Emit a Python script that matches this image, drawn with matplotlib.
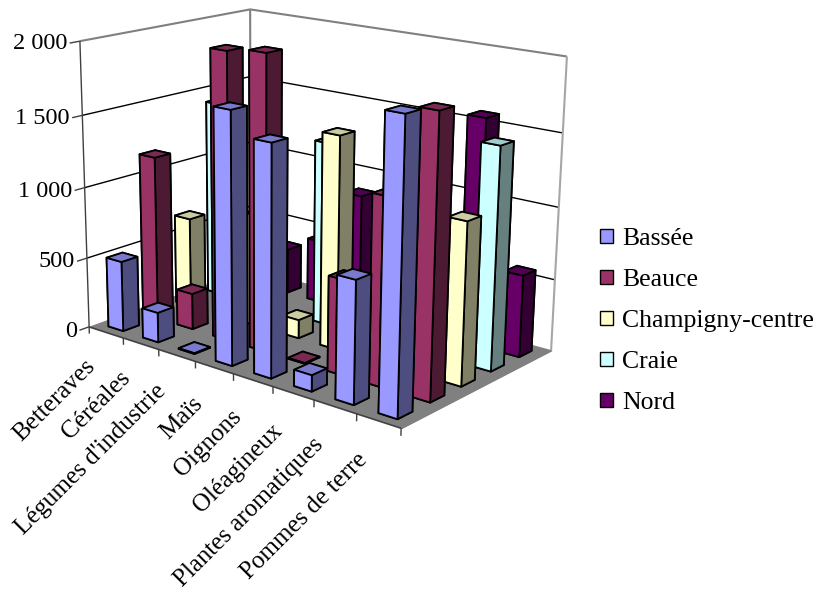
import numpy as np
import matplotlib
matplotlib.use('Agg')
import matplotlib.pyplot as plt
from matplotlib.patches import Patch
from mpl_toolkits.mplot3d.art3d import Poly3DCollection, Line3DCollection
from mpl_toolkits.mplot3d import proj3d

plt.rcParams['font.family'] = ['Liberation Serif', 'DejaVu Serif']

categories = ['Betteraves', 'Céréales', "Légumes d'industrie", 'Maïs', 'Oignons',
              'Oléagineux', 'Plantes aromatiques', 'Pommes de terre']
series_names = ['Bassée', 'Beauce', 'Champigny-centre', 'Craie', 'Nord']
bassee = [500, 210, 5, 1710, 1555, 110, 815, 1890]
beauce = [1165, 255, 1990, 2020, 5, 650, 1260, 1850]
champigny = [650, 0, 800, 130, 1475, 210, 1000, 1095]
craie = [1420, 0, 0, 1300, 0, 0, 0, 1510]
nord = [300, 330, 455, 860, 0, 0, 1575, 570]
series_values = [bassee, beauce, champigny, craie, nord]
z_ticks = [0, 500, 1000, 1500, 2000]
z_labels = ['0', '500', '1 000', '1 500', '2 000']
front_colors = ['#9999FF', '#993366', '#FFFFCC', '#CCFFFF', '#660066']
side_colors = ['#4D4D80', '#4D1A33', '#808066', '#668080', '#330033']
top_colors = ['#7A7ACC', '#7A2952', '#CCCCA3', '#A3CCCC', '#520052']

W, H = 816, 591
# camera calibration: chart box corners -> pixel positions
world = [(0, 0, 0), (0, 0, 2000), (8, 0, 0), (8, 5, 0), (8, 5, 2000), (0, 5, 0), (0, 5, 2000)]
pix = [(90, 328), (80, 40), (400, 428), (552, 350), (567, 57), (250, 268), (250, 10)]
A = []
for (X, Y, Z), (u, v) in zip(world, pix):
    Z = Z / 2000 * 5
    v = H - v
    A.append([X, Y, Z, 1, 0, 0, 0, 0, -u * X, -u * Y, -u * Z, -u])
    A.append([0, 0, 0, 0, X, Y, Z, 1, -v * X, -v * Y, -v * Z, -v])
P = np.linalg.svd(np.array(A, float))[2][-1].reshape(3, 4)
P = P @ np.diag([1, 1, 5 / 2000, 1])
P = P / (P[2] @ np.array([4, 2.5, 1000, 1]))
M = np.vstack([P[0], P[1], [0, 0, 0, -1], P[2]])

fig = plt.figure(figsize=(W / 100, H / 100), dpi=100)
ax = fig.add_subplot(projection='3d', computed_zorder=False)
ax.set_position([0, 0, 1, 1])
ax.apply_aspect = lambda position=None: None
ax.get_proj = lambda: M
ax.set_axis_off()
ax.viewLim.intervalx = (0, W)
ax.viewLim.intervaly = (0, H)


def line3d(xs, ys, zs, color, lw, zorder=2):
    pts = list(zip(xs, ys, zs))
    col = Line3DCollection([pts], colors=color, linewidths=lw, zorder=zorder)
    ax.add_collection3d(col)


def text3d(x, y, z, s, **kw):
    px, py, _ = proj3d.proj_transform(x, y, z, M)
    ax.text2D(px, py, s, transform=ax.transData, **kw)


n_cat, n_ser = len(categories), len(series_names)
z_top = z_ticks[-1]
ax.add_collection3d(Poly3DCollection([[(0, 0, 0), (n_cat, 0, 0), (n_cat, n_ser, 0), (0, n_ser, 0)]],
                                     facecolor='#808080', edgecolor='#808080', zorder=1))
for t in z_ticks[1:-1]:
    line3d([0, 0, n_cat], [0, n_ser, n_ser], [t, t, t], 'black', 1.0)
line3d([0, 0, n_cat], [0, n_ser, n_ser], [z_top] * 3, '#808080', 1.5)
line3d([0, 0], [n_ser, n_ser], [0, z_top], '#808080', 1.5)
line3d([n_cat, n_cat], [n_ser, n_ser], [0, z_top], '#a6a6a6', 1.5)
line3d([0, 0], [0, 0], [0, z_top], '#404040', 1.0)
line3d([0, n_cat], [0, 0], [0, 0], '#404040', 1.0)
line3d([n_cat, n_cat], [0, n_ser], [0, 0], '#808080', 1.0)

for t, lab in zip(z_ticks, z_labels):
    line3d([0, 0], [0, -0.27], [t, t], '#404040', 1.0)
    text3d(0, -0.33, t, lab, ha='right', va='center', fontsize=17.5)
for i in range(n_cat + 1):
    line3d([i, i], [0, 0], [0, -50], '#404040', 1.0)
for i, lab in enumerate(categories):
    text3d(i + 0.5, -0.42, -185, lab, rotation=45, rotation_mode='anchor', ha='right', va='center',
           fontsize=18)

dx, dy = 0.43, 0.45
order = 10
for s in range(n_ser - 1, -1, -1):
    fc = [front_colors[s], top_colors[s], front_colors[s], front_colors[s], side_colors[s], side_colors[s]]
    # bar3d face order: bottom, top, -y, +y, -x, +x
    for c in range(n_cat):
        v = series_values[s][c]
        if v <= 0:
            continue
        poly = ax.bar3d(c + 0.5 - dx / 2, s + 0.5 - dy / 2, 0, dx, dy, v,
                        color=fc, shade=False, edgecolor='black', linewidth=1.3)
        poly.set_zorder(order)
        order += 1

handles = [Patch(facecolor=c, edgecolor='black', linewidth=1.0) for c in front_colors]
fig.legend(handles, series_names, loc='center left', bbox_to_anchor=(600 / W, 1 - 321 / H), frameon=False,
           fontsize=18.5, handlelength=0.5, handleheight=0.5, handletextpad=0.35, labelspacing=0.74,
           borderpad=0, borderaxespad=0)

fig.savefig('out.png', dpi=100)
